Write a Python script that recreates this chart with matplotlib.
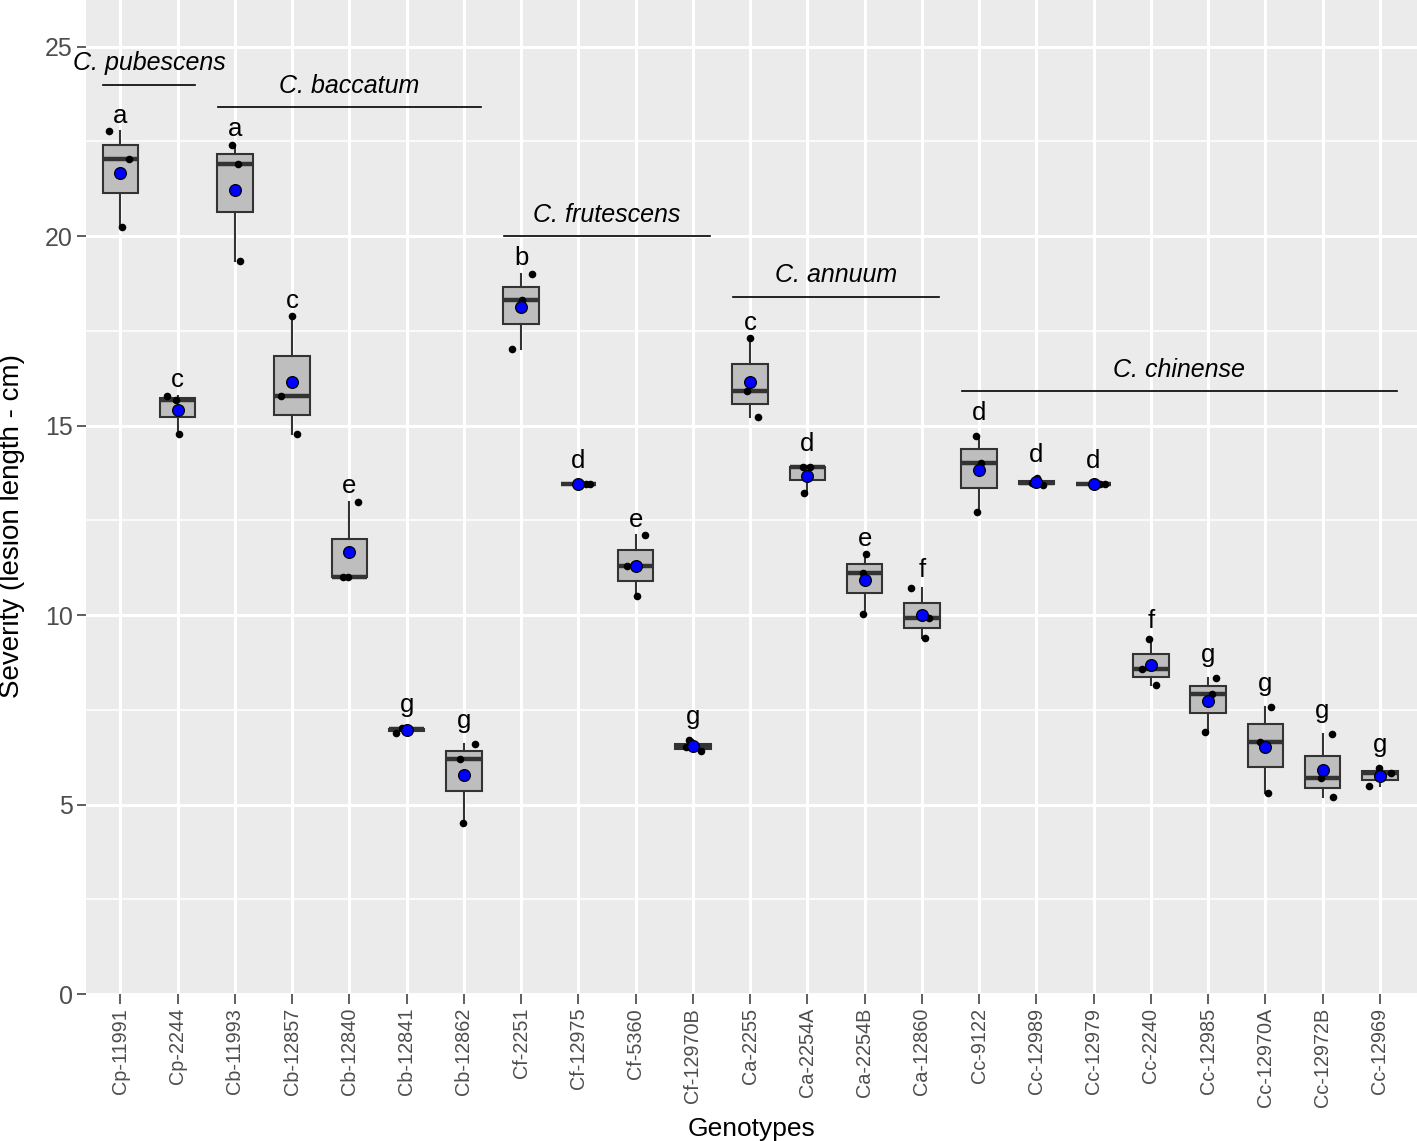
import numpy as np
import matplotlib.pyplot as plt

plt.rcParams['font.family'] = ['Liberation Sans', 'DejaVu Sans']

# genotypes, three lesion measurements each (cm)
genotypes = ['Cp-11991', 'Cp-2244', 'Cb-11993', 'Cb-12857', 'Cb-12840', 'Cb-12841', 'Cb-12862',
             'Cf-2251', 'Cf-12975', 'Cf-5360', 'Cf-12970B', 'Ca-2255', 'Ca-2254A', 'Ca-2254B',
             'Ca-12860', 'Cc-9122', 'Cc-12989', 'Cc-12979', 'Cc-2240', 'Cc-12985', 'Cc-12970A',
             'Cc-12972B', 'Cc-12969']
rep1 = [22.77, 15.79, 22.41, 17.88, 12.99, 6.89, 6.61, 19.01, 13.46, 12.11, 6.71, 17.31, 13.91,
        11.60, 10.71, 14.72, 13.61, 13.46, 9.36, 8.35, 7.57, 6.86, 5.96]
rep2 = [22.03, 15.67, 21.91, 15.78, 11.01, 7.01, 6.21, 18.32, 13.47, 11.30, 6.51, 15.92, 13.91,
        11.12, 9.91, 14.02, 13.48, 13.46, 8.57, 7.91, 6.66, 5.70, 5.82]
rep3 = [20.23, 14.77, 19.34, 14.77, 11.01, 6.99, 4.51, 17.03, 13.47, 10.49, 6.40, 15.22, 13.22,
        10.02, 9.39, 12.71, 13.43, 13.46, 8.15, 6.91, 5.30, 5.20, 5.48]
letters = ['a', 'c', 'a', 'c', 'e', 'g', 'g', 'b', 'd', 'e', 'g', 'c', 'd', 'e', 'f', 'd', 'd', 'd',
           'f', 'g', 'g', 'g', 'g']

# species groups: label, first and last genotype index covered by the bar
species = ['C. pubescens', 'C. baccatum', 'C. frutescens', 'C. annuum', 'C. chinense']
species_start = [0, 2, 7, 11, 15]
species_end = [1, 6, 10, 14, 22]
species_bar_y = [24.0, 23.4, 20.0, 18.4, 15.9]

# horizontal jitter used for the raw points (fixed so the plot is reproducible)
jit1 = [-0.19, -0.185, -0.05, 0.0, 0.145, -0.18, 0.19, 0.19, 0.0, 0.16, -0.075, -0.01, -0.07,
        0.02, -0.19, -0.06, 0.02, 0.0, -0.04, 0.135, 0.095, 0.17, -0.01]
jit2 = [0.15, -0.035, 0.055, -0.19, -0.11, -0.08, -0.06, 0.02, 0.135, -0.155, -0.115, -0.06, 0.05,
        -0.02, 0.13, 0.04, -0.08, 0.11, -0.15, 0.07, -0.095, -0.03, 0.19]
jit3 = [0.035, 0.03, 0.095, 0.09, -0.02, 0.02, -0.015, -0.155, 0.205, 0.02, 0.14, 0.135, -0.06,
        -0.03, 0.055, -0.04, 0.12, 0.2, 0.09, -0.055, 0.04, 0.175, -0.19]

vals = np.array([rep1, rep2, rep3]).T
jit = np.array([jit1, jit2, jit3]).T
pos = np.arange(1, len(genotypes) + 1)

fig = plt.figure(figsize=(14.17, 11.41), dpi=100)
ax = fig.add_axes([0.0607, 0.1288, 0.9393, 0.8712])
ax.set_facecolor('#EBEBEB')

# ggplot-like grid
for y in np.arange(2.5, 26, 5):
  ax.axhline(y, color='white', lw=1.1, zorder=0)
for y in np.arange(0, 26, 5):
  ax.axhline(y, color='white', lw=2.2, zorder=0)
for x in pos:
  ax.axvline(x, color='white', lw=2.2, zorder=0)

ax.boxplot([v for v in vals], positions=pos, widths=0.62, patch_artist=True,
           showfliers=False, showcaps=False, whis=1.5,
           boxprops=dict(facecolor='#BEBEBE', edgecolor='#333333', linewidth=1.5),
           whiskerprops=dict(color='#333333', linewidth=1.5),
           medianprops=dict(color='#333333', linewidth=3.2, solid_capstyle='butt'),
           zorder=2)

ax.scatter((pos[:, None] + jit).ravel(), vals.ravel(), s=30, color='black', zorder=3, linewidths=0)
means = vals.mean(axis=1)
ax.scatter(pos, means, s=72, color='blue', edgecolors='black', linewidths=0.9, zorder=4)

# significance letters above the highest point
for i, lab in enumerate(letters):
  off = 0.22
  if lab in 'dg':
    off = 0.42
  elif lab == 'f':
    off = 0.3
  ax.text(pos[i], vals[i].max() + off, lab, ha='center', va='baseline', fontsize=18.5, color='black')

for name, s, e, yb in zip(species, species_start, species_end, species_bar_y):
  x0 = pos[s] - 0.3
  x1 = pos[e] + 0.3
  ax.plot([x0, x1], [yb, yb], color='black', lw=1.2, zorder=3)
  ax.text((x0 + x1) / 2, yb + 0.25, name, ha='center', va='bottom', style='italic',
          fontsize=18, color='black')

ax.set_xlim(0.4, 23.65)
ax.set_ylim(0.07, 26.23)
ax.set_yticks([0, 5, 10, 15, 20, 25])
ax.set_xticks(pos)
ax.set_xticklabels(genotypes, rotation=90, fontsize=14.3, color='#4D4D4D')
ax.tick_params(axis='y', labelsize=18, labelcolor='#4D4D4D', length=6.5, width=1.1, color='#333333', pad=3)
ax.tick_params(axis='x', length=7, width=1.1, color='#333333', pad=3)
for sp in ax.spines.values():
  sp.set_visible(False)

ax.set_xlabel('Genotypes', fontsize=19, labelpad=7)
ax.set_ylabel('Severity (lesion length - cm)', fontsize=20)
ax.yaxis.set_label_coords(-0.046, 0.471)

plt.savefig('out.png', dpi=100)
plt.close('all')
